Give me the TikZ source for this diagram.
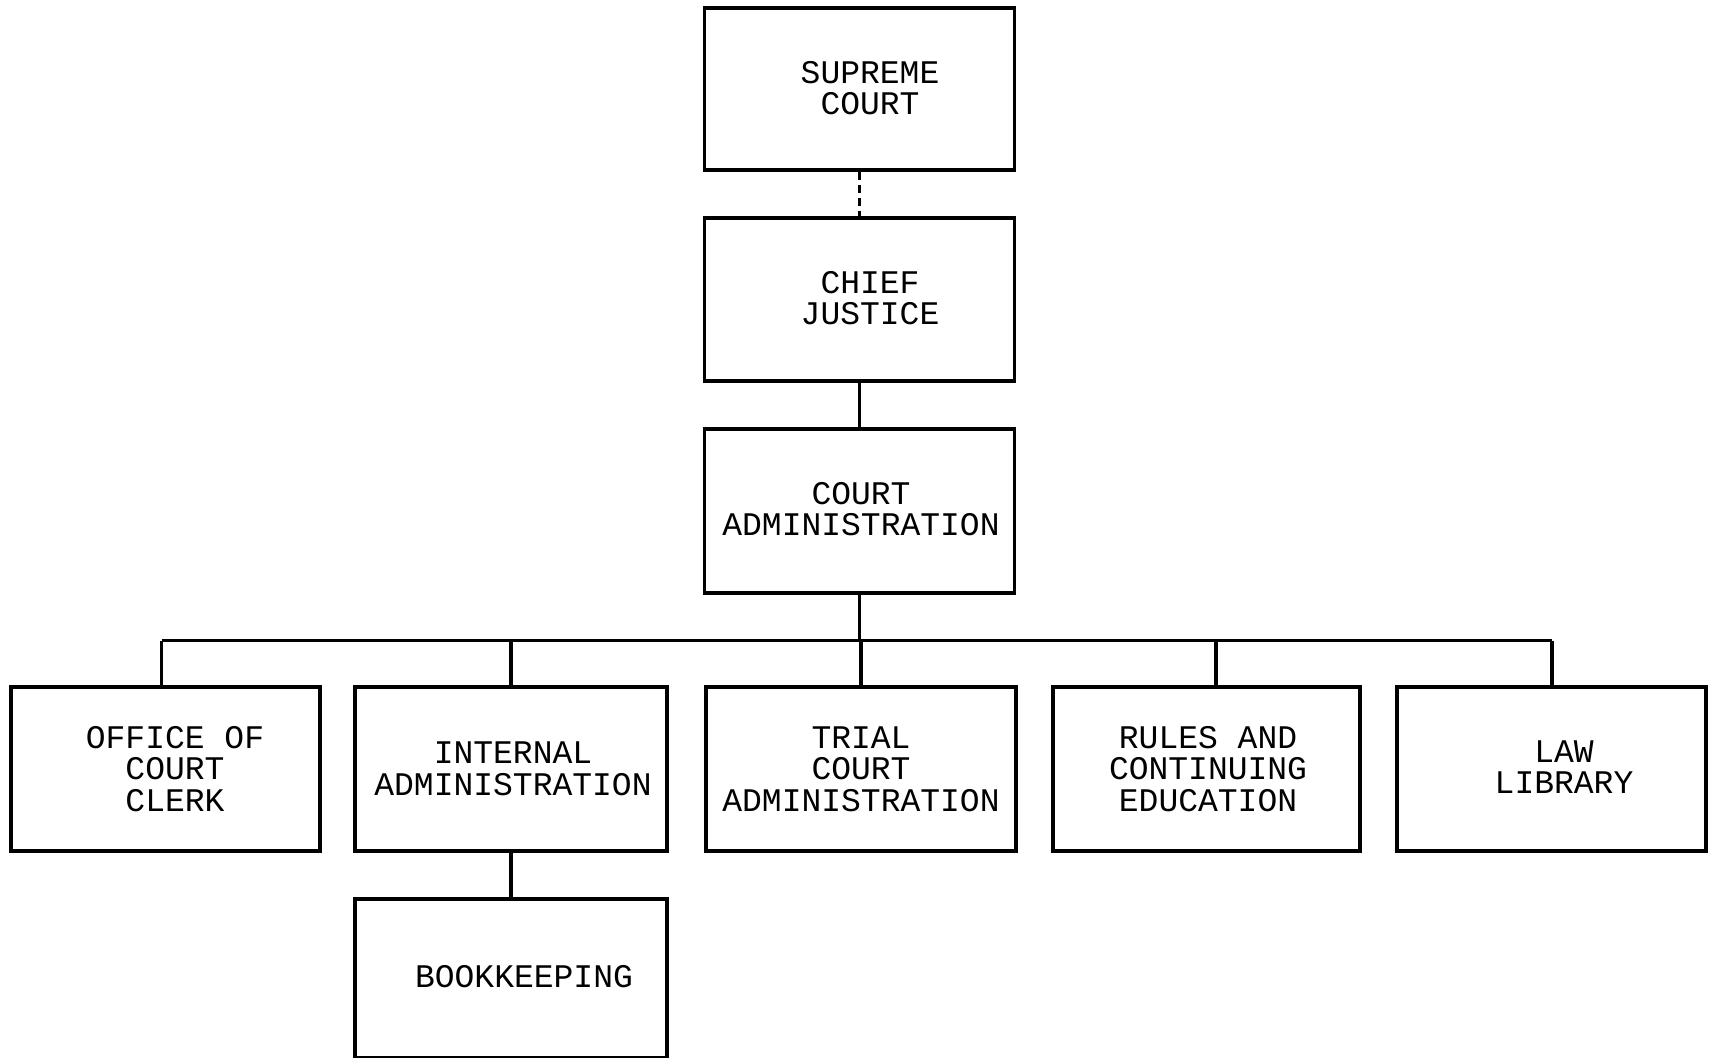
\documentclass[tikz,border=0pt]{standalone}
\usepackage{fontspec}
\setmonofont{Liberation Mono}
\begin{document}
\begin{tikzpicture}[x=0.5pt,y=-0.5pt,
  box/.style={draw, line width=1.6pt, rectangle, inner sep=0pt, minimum width=155pt},
  lbl/.style={font=\ttfamily\fontsize{16.5}{15.8}\selectfont, align=center, inner sep=0pt},
  conn/.style={line width=1.6pt}]
\useasboundingbox (0,0) rectangle (1711,1058);
% boxes
\node[box, minimum height=81pt] (sc) at (859.5,89) {};
\node[box, minimum height=81.5pt] (cj) at (859.5,299.5) {};
\node[box, minimum height=82pt] (ca) at (859.5,511) {};
\node[box, minimum width=154.5pt, minimum height=82pt] (c1) at (165.5,769) {};
\node[box, minimum width=156pt, minimum height=82pt] (c2) at (511,769) {};
\node[box, minimum width=155pt, minimum height=82pt] (c3) at (861,769) {};
\node[box, minimum width=153.5pt, minimum height=82pt] (c4) at (1206.5,769) {};
\node[box, minimum width=154.5pt, minimum height=82pt] (c5) at (1551.5,769) {};
\node[box, minimum width=156pt, minimum height=79.5pt] (bk) at (511,978.5) {};
% labels
\node[lbl] (tsc) at (870,88) {SUPREME\\COURT};
\node[lbl] (tcj) at (870,298) {CHIEF\\JUSTICE};
\node[lbl] (tca) at (861,509) {COURT\\ADMINISTRATION};
\node[lbl] (tc1) at (175,769) {OFFICE OF\\COURT\\CLERK};
\node[lbl] (tc2) at (513,769) {INTERNAL\\ADMINISTRATION};
\node[lbl] (tc3) at (861,769) {TRIAL\\COURT\\ADMINISTRATION};
\node[lbl] (tc4) at (1208,769) {RULES AND\\CONTINUING\\EDUCATION};
\node[lbl] (tc5) at (1564,767) {LAW\\LIBRARY};
\node[lbl] (tbk) at (524,977) {BOOKKEEPING};
% connectors
\draw[conn, dash pattern=on 4pt off 2.5pt] (sc.south) -- (cj.north);
\draw[conn] (cj.south) -- (ca.north);
\coordinate (busL) at (161.5,640.5);
\coordinate (busR) at (1552,640.5);
\coordinate (d4) at (1216,640.5);
\draw[conn] (busL) -- (busR);
\draw[conn] (ca.south) -- (ca.south |- busL);
\draw[conn] (busL) -- (busL |- c1.north);
\draw[conn] (c2.north |- busL) -- (c2.north);
\draw[conn] (c3.north |- busL) -- (c3.north);
\draw[conn] (d4) -- (d4 |- c4.north);
\draw[conn] (busR) -- (busR |- c5.north);
\draw[conn] (c2.south) -- (bk.north);
\end{tikzpicture}
\end{document}
